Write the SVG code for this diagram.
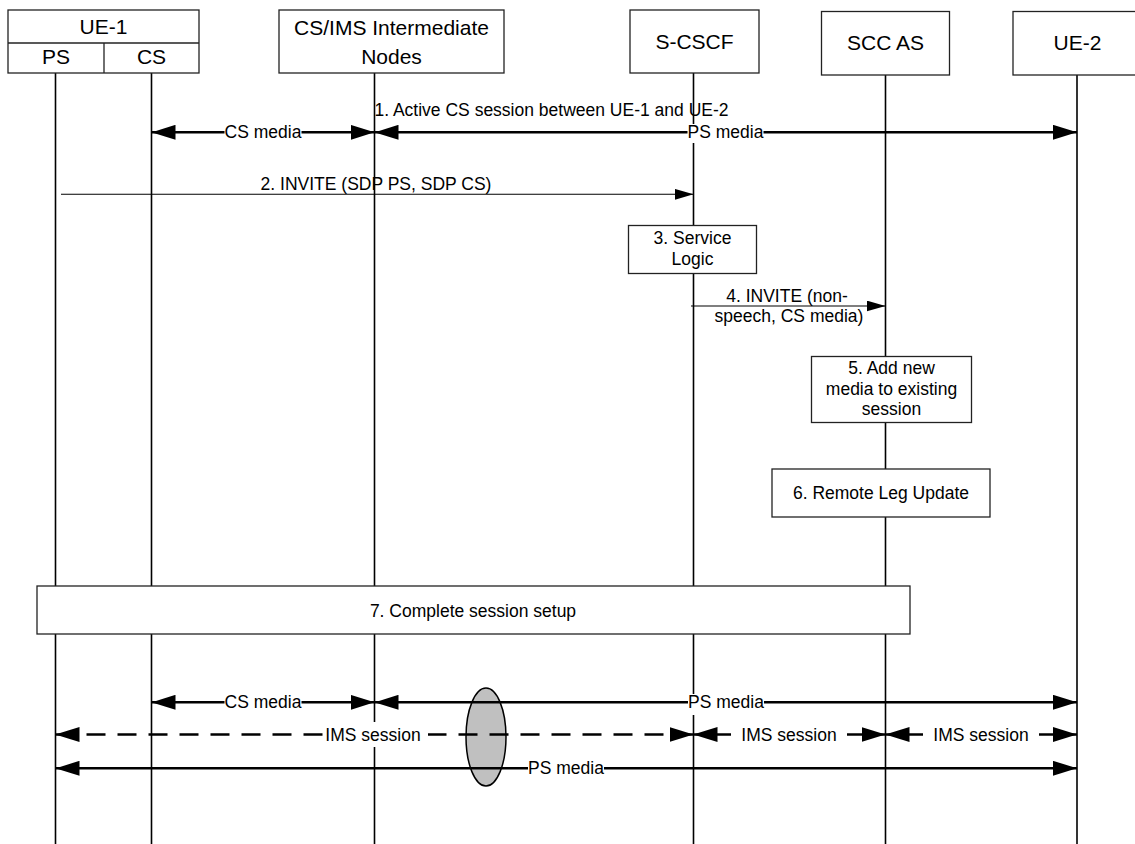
<svg xmlns="http://www.w3.org/2000/svg" width="1135" height="844" viewBox="0 0 1135 844">
<style>
text{font-family:"Liberation Sans",Arial,sans-serif;fill:#000}
.h{font-size:21px;text-anchor:middle}
.t{font-size:17.5px;text-anchor:middle}
.box{fill:#fff;stroke:#222;stroke-width:1.3}
.life{stroke:#000;stroke-width:1.6;fill:none}
.bold{stroke:#000;stroke-width:2.4;fill:none;marker-start:url(#ab);marker-end:url(#ab)}
.dash{stroke:#000;stroke-width:2.4;fill:none;stroke-dasharray:19,12;marker-start:url(#ab);marker-end:url(#ab)}
.thin{stroke:#000;stroke-width:1.1;fill:none;marker-end:url(#at)}
.bg{fill:#fff}
</style>
<defs>
<marker id="ab" markerUnits="userSpaceOnUse" markerWidth="24" markerHeight="15" refX="24" refY="7.5" orient="auto-start-reverse"><path d="M0,0 L24,7.5 L0,15 z" fill="#000"/></marker>
<marker id="at" markerUnits="userSpaceOnUse" markerWidth="19" markerHeight="11" refX="19" refY="5.5" orient="auto"><path d="M0,0 L19,5.5 L0,11 z" fill="#000"/></marker>
</defs>
<rect width="1135" height="844" fill="#fff"/>

<g id="ue1">
<line class="life" x1="55.5" y1="73" x2="55.5" y2="844"/>
<line class="life" x1="151.5" y1="73" x2="151.5" y2="844"/>
<rect class="box" x="8" y="10" width="191" height="63"/>
<line class="box" x1="8" y1="43" x2="199" y2="43"/>
<line class="box" x1="104" y1="43" x2="104" y2="73"/>
<text class="h" x="103.5" y="33.5">UE-1</text>
<text class="h" x="56" y="64">PS</text>
<text class="h" x="151.5" y="64">CS</text>
</g>

<g id="cs-ims">
<line class="life" x1="374.5" y1="73" x2="374.5" y2="844"/>
<rect class="box" x="279" y="10" width="225" height="63"/>
<text class="h" x="391.5" y="35">CS/IMS Intermediate</text>
<text class="h" x="391.5" y="64">Nodes</text>
</g>

<g id="scscf">
<line class="life" x1="693.5" y1="73" x2="693.5" y2="844"/>
<rect class="box" x="630" y="10" width="129" height="63"/>
<text class="h" x="694.5" y="49">S-CSCF</text>
</g>

<g id="sccas">
<line class="life" x1="885.5" y1="75" x2="885.5" y2="844"/>
<rect class="box" x="821.5" y="11.5" width="128" height="63.5"/>
<text class="h" x="885.5" y="50">SCC AS</text>
</g>

<g id="ue2">
<line class="life" x1="1077" y1="75" x2="1077" y2="844"/>
<rect class="box" x="1013" y="11.5" width="135" height="63.5"/>
<text class="h" x="1077.5" y="50">UE-2</text>
</g>

<g id="step3">
<rect class="box" x="628.5" y="225.5" width="128" height="48"/>
<text class="t" x="692.5" y="244">3. Service</text>
<text class="t" x="692.5" y="265">Logic</text>
</g>

<g id="step5">
<rect class="box" x="811.5" y="356.5" width="160" height="66"/>
<text class="t" x="891.5" y="374">5. Add new</text>
<text class="t" x="891.5" y="394.5">media to existing</text>
<text class="t" x="891.5" y="415">session</text>
</g>

<g id="step6">
<rect class="box" x="772" y="469" width="218" height="48"/>
<text class="t" x="881" y="499">6. Remote Leg Update</text>
</g>

<g id="step7">
<rect class="box" x="37" y="586" width="873" height="48"/>
<text class="t" x="473" y="616.5">7. Complete session setup</text>
</g>

<g id="interworking">
<ellipse cx="486" cy="737" rx="20" ry="49" fill="#c0c0c0" stroke="#000" stroke-width="1.5"/>
</g>

<g id="connectors">
<text class="t" x="551.5" y="116">1. Active CS session between UE-1 and UE-2</text>
<line class="bold" x1="151.5" y1="132.3" x2="374.5" y2="132.3"/>
<rect class="bg" x="224.5" y="124" width="77" height="19"/>
<text class="t" x="263" y="138">CS media</text>
<line class="bold" x1="374.5" y1="132.3" x2="1077" y2="132.3"/>
<rect class="bg" x="687.5" y="124" width="76" height="19"/>
<text class="t" x="725.5" y="138">PS media</text>

<line class="thin" x1="61" y1="194.3" x2="693.5" y2="194.3"/>
<text class="t" x="376" y="190">2. INVITE (SDP PS, SDP CS)</text>

<line class="thin" x1="691" y1="306" x2="885.5" y2="306"/>
<text class="t" x="787" y="301.5">4. INVITE (non-</text>
<text class="t" x="789" y="322">speech, CS media)</text>

<line class="bold" x1="151.5" y1="702.3" x2="374.5" y2="702.3"/>
<rect class="bg" x="224.5" y="694" width="77" height="19"/>
<text class="t" x="263" y="708">CS media</text>
<line class="bold" x1="374.5" y1="702.3" x2="1077" y2="702.3"/>
<rect class="bg" x="688" y="694" width="76" height="21"/>
<text class="t" x="726" y="708">PS media</text>

<line class="dash" x1="55.5" y1="734.5" x2="693.5" y2="734.5"/>
<rect class="bg" x="324" y="722" width="104" height="25"/>
<text class="t" x="373" y="741">IMS session</text>
<line class="bold" x1="693.5" y1="734.5" x2="885.5" y2="734.5"/>
<rect class="bg" x="731" y="724" width="116" height="21"/>
<text class="t" x="789" y="741">IMS session</text>
<line class="bold" x1="885.5" y1="734.5" x2="1077" y2="734.5"/>
<rect class="bg" x="923" y="724" width="116" height="21"/>
<text class="t" x="981" y="741">IMS session</text>

<line class="bold" x1="55.5" y1="768.3" x2="1077" y2="768.3"/>
<rect class="bg" x="528" y="760" width="76" height="19"/>
<text class="t" x="566" y="774">PS media</text>
</g>
</svg>
